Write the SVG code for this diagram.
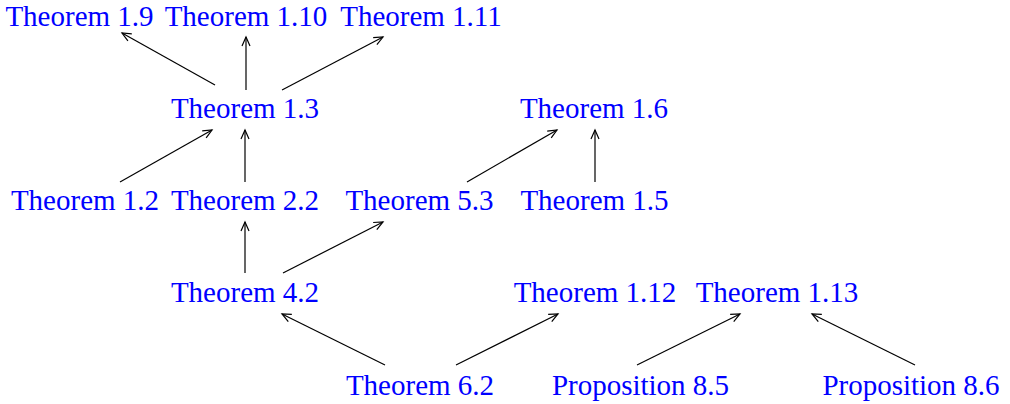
<svg xmlns="http://www.w3.org/2000/svg" width="1010" height="404" viewBox="0 0 1010 404">
<style>
text{font-family:"Liberation Serif","Times New Roman",serif;font-size:29px;fill:#0000ff;text-anchor:middle}
.e line{stroke:#000;stroke-width:1.2;marker-end:url(#a)}
</style>
<defs>
<marker id="a" markerUnits="userSpaceOnUse" markerWidth="14" markerHeight="14" viewBox="-10 -7 14 14" refX="0" refY="0" orient="auto">
<path d="M-9,-4 L0,0 L-9,4" fill="none" stroke="#000" stroke-width="1.2"/>
</marker>
</defs>
<rect width="1010" height="404" fill="#fff"/>
<g id="t19"><text x="79.5" y="26">Theorem 1.9</text></g>
<g id="t110"><text x="246" y="26">Theorem 1.10</text></g>
<g id="t111"><text x="421" y="26">Theorem 1.11</text></g>
<g id="t13"><text x="245" y="118">Theorem 1.3</text></g>
<g id="t16"><text x="594" y="118">Theorem 1.6</text></g>
<g id="t12"><text x="85" y="210">Theorem 1.2</text></g>
<g id="t22"><text x="245" y="210">Theorem 2.2</text></g>
<g id="t53"><text x="419.5" y="210">Theorem 5.3</text></g>
<g id="t15"><text x="594.5" y="210">Theorem 1.5</text></g>
<g id="t42"><text x="245" y="302">Theorem 4.2</text></g>
<g id="t112"><text x="595" y="302">Theorem 1.12</text></g>
<g id="t113"><text x="777" y="302">Theorem 1.13</text></g>
<g id="t62"><text x="420" y="395">Theorem 6.2</text></g>
<g id="p85"><text x="640.5" y="395">Proposition 8.5</text></g>
<g id="p86"><text x="911" y="395">Proposition 8.6</text></g>
<g id="edges" class="e">
<line x1="215" y1="85" x2="122" y2="33"/>
<line x1="246" y1="90" x2="246" y2="37"/>
<line x1="282" y1="90" x2="383" y2="37"/>
<line x1="120" y1="182" x2="212" y2="130"/>
<line x1="245" y1="182" x2="245" y2="130"/>
<line x1="467" y1="182" x2="557" y2="130"/>
<line x1="595" y1="182" x2="595" y2="130"/>
<line x1="245" y1="273" x2="245" y2="222"/>
<line x1="283" y1="273" x2="383" y2="222"/>
<line x1="385" y1="365" x2="282" y2="314"/>
<line x1="456" y1="365" x2="558" y2="314"/>
<line x1="637" y1="365" x2="740" y2="314"/>
<line x1="915" y1="365" x2="812" y2="314"/>
</g>
</svg>
